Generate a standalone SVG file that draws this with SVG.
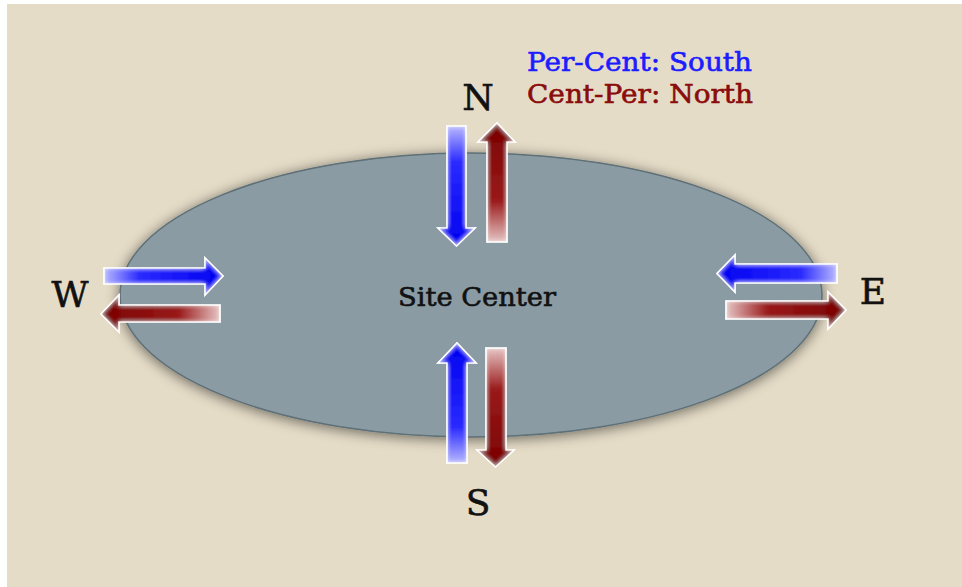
<svg xmlns="http://www.w3.org/2000/svg" width="962" height="587" viewBox="0 0 962 587">
<style>
.lbl{font-family:"DejaVu Serif","Liberation Serif",serif;fill:#111;stroke:#111;stroke-width:0.6;}
.dir{font-size:36px;text-anchor:middle;}
.leg{font-size:26px;}
.blue{fill:#1c1cff;stroke:#1c1cff;}
.red{fill:#8a0c0c;stroke:#8a0c0c;}
.arrow{stroke:#ffffff;stroke-width:1.6;stroke-linejoin:miter;filter:url(#inglow);}
</style>
<defs>
<filter id="shadow" x="-10%" y="-20%" width="120%" height="140%">
<feGaussianBlur in="SourceAlpha" stdDeviation="7"/>
<feOffset dx="0" dy="2" result="b"/>
<feComponentTransfer><feFuncA type="linear" slope="0.55"/></feComponentTransfer>
<feMerge><feMergeNode/><feMergeNode in="SourceGraphic"/></feMerge>
</filter>
<filter id="inglow" x="-20%" y="-20%" width="140%" height="140%">
<feFlood flood-color="#ffffff" result="w"/>
<feComposite in="w" in2="SourceAlpha" operator="out" result="outside"/>
<feGaussianBlur in="outside" stdDeviation="2.5" result="b"/>
<feComposite in="b" in2="SourceAlpha" operator="in" result="inner"/>
<feMerge><feMergeNode in="SourceGraphic"/><feMergeNode in="inner"/></feMerge>
</filter>
<linearGradient id="bR" x1="0" y1="0" x2="1" y2="0"><stop offset="0" stop-color="#b8b8ff"/><stop offset="0.3" stop-color="#2a2aff"/><stop offset="1" stop-color="#0000f0"/></linearGradient>
<linearGradient id="bL" x1="1" y1="0" x2="0" y2="0"><stop offset="0" stop-color="#b8b8ff"/><stop offset="0.3" stop-color="#2a2aff"/><stop offset="1" stop-color="#0000f0"/></linearGradient>
<linearGradient id="bD" x1="0" y1="0" x2="0" y2="1"><stop offset="0" stop-color="#b8b8ff"/><stop offset="0.3" stop-color="#2a2aff"/><stop offset="1" stop-color="#0000f0"/></linearGradient>
<linearGradient id="bU" x1="0" y1="1" x2="0" y2="0"><stop offset="0" stop-color="#b8b8ff"/><stop offset="0.3" stop-color="#2a2aff"/><stop offset="1" stop-color="#0000f0"/></linearGradient>
<linearGradient id="rR" x1="0" y1="0" x2="1" y2="0"><stop offset="0" stop-color="#e6c4c4"/><stop offset="0.35" stop-color="#9a1a1a"/><stop offset="1" stop-color="#7a0000"/></linearGradient>
<linearGradient id="rL" x1="1" y1="0" x2="0" y2="0"><stop offset="0" stop-color="#e6c4c4"/><stop offset="0.35" stop-color="#9a1a1a"/><stop offset="1" stop-color="#7a0000"/></linearGradient>
<linearGradient id="rD" x1="0" y1="0" x2="0" y2="1"><stop offset="0" stop-color="#e6c4c4"/><stop offset="0.35" stop-color="#9a1a1a"/><stop offset="1" stop-color="#7a0000"/></linearGradient>
<linearGradient id="rU" x1="0" y1="1" x2="0" y2="0"><stop offset="0" stop-color="#e6c4c4"/><stop offset="0.35" stop-color="#9a1a1a"/><stop offset="1" stop-color="#7a0000"/></linearGradient>
</defs>
<rect x="0" y="0" width="962" height="587" fill="#ffffff"/>
<rect x="7" y="4" width="955" height="583" fill="#E5DCC7"/>

<g id="site-center">
<ellipse cx="471" cy="295" rx="351" ry="142" fill="#8A9BA3" stroke="#5E6F77" stroke-width="1.5" filter="url(#shadow)"/>
<text class="lbl" x="477" y="306" font-size="26" text-anchor="middle" textLength="158" lengthAdjust="spacingAndGlyphs">Site Center</text>
</g>

<g id="label-N"><text class="lbl dir" x="478" y="110">N</text></g>
<g id="label-S"><text class="lbl dir" x="478" y="515">S</text></g>
<g id="label-W"><text class="lbl dir" x="70" y="307">W</text></g>
<g id="label-E"><text class="lbl dir" x="873" y="304">E</text></g>

<g id="legend">
<text class="lbl leg blue" x="527" y="71" textLength="225" lengthAdjust="spacingAndGlyphs">Per-Cent: South</text>
<text class="lbl leg red" x="527" y="103" textLength="226" lengthAdjust="spacingAndGlyphs">Cent-Per: North</text>
</g>

<g id="connectors">
<!-- North -->
<polygon class="arrow" fill="url(#bD)" points="447,126 466,126 466,228 475,228 456.5,246 438,228 447,228"/>
<polygon class="arrow" fill="url(#rU)" points="487,242 507,242 507,142 515,142 497,123 478,142 487,142"/>
<!-- South -->
<polygon class="arrow" fill="url(#bU)" points="447,463 467,463 467,363 476,363 457,343 438,363 447,363"/>
<polygon class="arrow" fill="url(#rD)" points="486,348 506,348 506,450 514,450 495.5,467 477,450 486,450"/>
<!-- West -->
<polygon class="arrow" fill="url(#bR)" points="104,268 205,268 205,258 223,276 205,295 205,284 104,284"/>
<polygon class="arrow" fill="url(#rL)" points="220,305 119,305 119,295 101,314 119,332 119,322 220,322"/>
<!-- East -->
<polygon class="arrow" fill="url(#bL)" points="837,264 735,264 735,255 717,273.5 735,292 735,283 837,283"/>
<polygon class="arrow" fill="url(#rR)" points="726,301 828,301 828,292 846,310 828,329 828,319 726,319"/>
</g>
</svg>
